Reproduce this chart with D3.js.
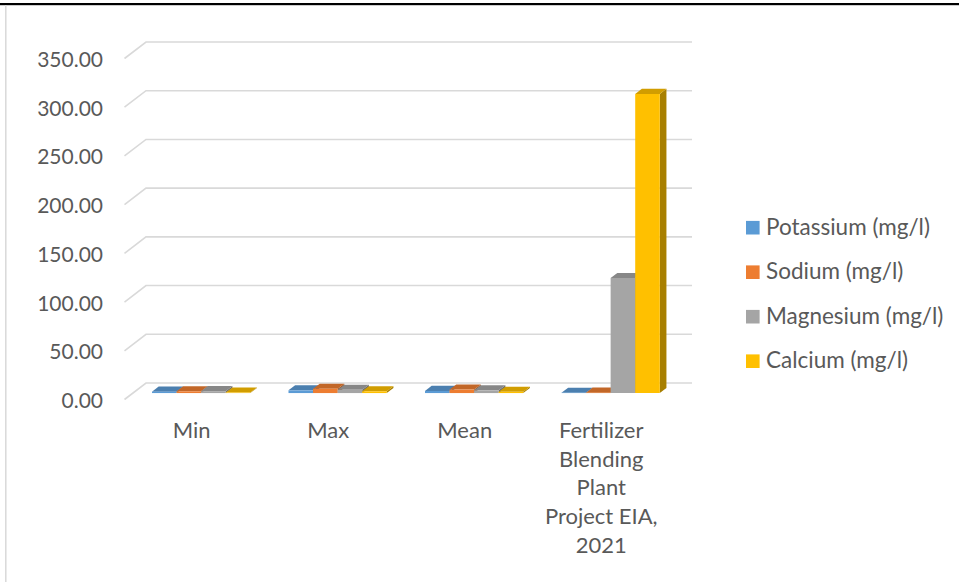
<!DOCTYPE html>
<html>
<head>
<meta charset="utf-8">
<script src="https://cdn.jsdelivr.net/npm/d3@7"></script>
<style>
  html, body { margin: 0; padding: 0; background: #ffffff; }
  svg { display: block; }
  text { font-family: Lato, "Open Sans", sans-serif; fill: #595959; }
</style>
</head>
<body>
<svg id="chart" width="959" height="582"></svg>
<script>
// Data
const categories = ["Min", "Max", "Mean", "Fertilizer Blending Plant Project EIA, 2021"];
const seriesNames = ["Potassium (mg/l)", "Sodium (mg/l)", "Magnesium (mg/l)", "Calcium (mg/l)"];
const potassium = [1.4, 2.8, 2.2, 0.3];
const sodium    = [1.8, 4.4, 3.6, 0.4];
const magnesium = [1.9, 3.3, 2.8, 118];
const calcium   = [0.5, 1.8, 1.3, 307];
const yTicks = [0, 50, 100, 150, 200, 250, 300, 350];
const colors = ["#5B9BD5", "#ED7D31", "#A5A5A5", "#FFC000"];

const seriesValues = [potassium, sodium, magnesium, calcium];

const svg = d3.select("#chart");

// Frame: heavy rule on top, light border on the left
svg.append("rect").attr("x", 0).attr("y", 3).attr("width", 959).attr("height", 2.2).attr("fill", "#000");
svg.append("line").attr("x1", 5.8).attr("x2", 5.8).attr("y1", 5).attr("y2", 582)
  .attr("stroke", "#d9d9d9").attr("stroke-width", 1.5);

// Oblique 3D projection: front plane scales plus a depth offset
const DX = 21.5, DY = -16.5;
const x0 = d3.scaleBand().domain(categories).range([124.5, 670.5]).paddingInner(0).paddingOuter(0);
const y = d3.scaleLinear().domain([0, 350]).range([399.5, 58.5]);
const proj = (px, py, z) => [px + DX * z, py + DY * z];

const groupFrac = 0.72;
const x1 = d3.scaleBand().domain(seriesNames)
  .range([-x0.bandwidth() * groupFrac / 2, x0.bandwidth() * groupFrac / 2]).padding(0);

// Walls: gridlines on the back wall plus their diagonal on the side wall
const grid = svg.append("g").attr("stroke", "#d9d9d9").attr("stroke-width", 1.6).attr("fill", "none");
yTicks.forEach(t => {
  const f = proj(x0.range()[0], y(t), 0);
  const b = proj(x0.range()[0], y(t), 1);
  const e = proj(x0.range()[1], y(t), 1);
  grid.append("path").attr("d", d3.line()([f, b, e]));
});

// Y axis labels
svg.append("g").selectAll("text").data(yTicks).join("text")
  .attr("x", 103).attr("y", d => y(d))
  .attr("text-anchor", "end").attr("dominant-baseline", "central")
  .style("font-size", "21px")
  .text(d => d3.format(".2f")(d));

// Bars
const zFront = 0.39, zBack = 0.70;
const shade = (c, k) => { const r = d3.rgb(c); return d3.rgb(r.r * k, r.g * k, r.b * k).formatHex(); };
const barsG = svg.append("g");
categories.forEach((cat, ci) => {
  seriesNames.forEach((s, si) => {
    const v = seriesValues[si][ci];
    const xl = x0(cat) + x0.bandwidth() / 2 + x1(s);
    const xr = xl + x1.bandwidth();
    const yb = y(0), yt = y(v);
    const F = (px, py) => proj(px, py, zFront);
    const B = (px, py) => proj(px, py, zBack);
    const g = barsG.append("g");
    // right side
    g.append("path").attr("fill", shade(colors[si], 0.66))
      .attr("d", d3.line()([F(xr, yb), F(xr, yt), B(xr, yt), B(xr, yb)]) + "Z");
    // top
    g.append("path").attr("fill", shade(colors[si], 0.82))
      .attr("d", d3.line()([F(xl, yt), F(xr, yt), B(xr, yt), B(xl, yt)]) + "Z");
    // front
    g.append("path").attr("fill", colors[si])
      .attr("d", d3.line()([F(xl, yb), F(xr, yb), F(xr, yt), F(xl, yt)]) + "Z");
  });
});

// Category labels, wrapped to the band width
const catG = svg.append("g");
const lineH = 28.7, maxW = 118;
categories.forEach(cat => {
  const cx = x0(cat) + x0.bandwidth() / 2 - 1;
  const t = catG.append("text")
    .attr("x", cx)
    .attr("y", 438)
    .attr("text-anchor", "middle")
    .style("font-size", "22px");
  const words = cat.split(" ");
  let line = [];
  let tspan = t.append("tspan").attr("x", cx).attr("dy", 0);
  words.forEach(w => {
    line.push(w);
    tspan.text(line.join(" "));
    if (tspan.node().getComputedTextLength() > maxW && line.length > 1) {
      line.pop();
      tspan.text(line.join(" "));
      line = [w];
      tspan = t.append("tspan").attr("x", cx).attr("dy", lineH).text(w);
    }
  });
});

// Legend
const legend = svg.append("g");
seriesNames.forEach((s, i) => {
  const cy = 227.7 + i * 44.5;
  legend.append("rect").attr("x", 746).attr("y", cy - 6.8).attr("width", 13.6).attr("height", 13.6)
    .attr("fill", colors[i]);
  legend.append("text").attr("x", 766).attr("y", cy + 7)
    .style("font-size", "22.5px").text(s);
});
</script>
</body>
</html>
